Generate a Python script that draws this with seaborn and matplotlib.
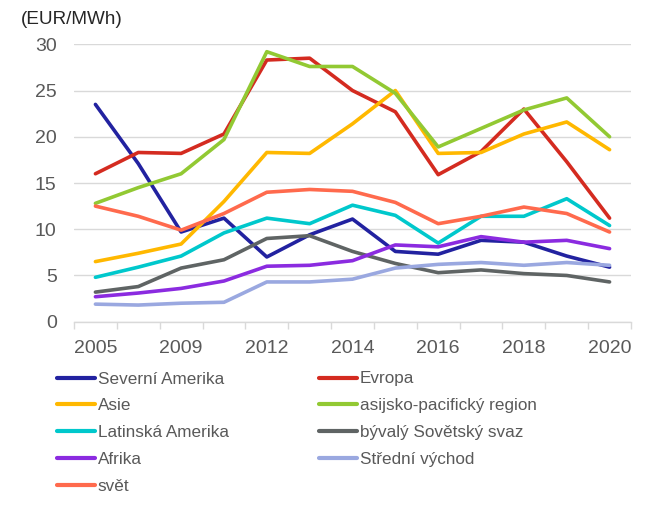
import numpy as np
import pandas as pd
import seaborn as sns
import matplotlib
matplotlib.use("Agg")
import matplotlib.pyplot as plt
from matplotlib.ticker import FixedLocator

# years on the category axis (only every second one is labelled)
years = ["2005", "2007", "2009", "2010", "2012", "2013", "2014",
         "2015", "2016", "2017", "2018", "2019", "2020"]

severni_amerika = [23.5, 17.1, 9.7, 11.2, 7.0, 9.4, 11.1, 7.6, 7.3, 8.8, 8.6, 7.1, 5.9]
evropa = [16.0, 18.3, 18.2, 20.3, 28.3, 28.5, 25.0, 22.7, 15.9, 18.4, 23.0, 17.3, 11.2]
asie = [6.5, 7.4, 8.4, 13.0, 18.3, 18.2, 21.4, 25.0, 18.2, 18.3, 20.3, 21.6, 18.6]
asia_pacific = [12.8, 14.5, 16.0, 19.7, 29.2, 27.6, 27.6, 24.7, 18.9, 20.9, 22.9, 24.2, 20.0]
latinska_amerika = [4.8, 5.9, 7.1, 9.6, 11.2, 10.6, 12.6, 11.5, 8.5, 11.4, 11.4, 13.3, 10.4]
byvaly_sssr = [3.2, 3.8, 5.8, 6.7, 9.0, 9.3, 7.6, 6.3, 5.3, 5.6, 5.2, 5.0, 4.3]
afrika = [2.7, 3.1, 3.6, 4.4, 6.0, 6.1, 6.6, 8.3, 8.1, 9.2, 8.6, 8.8, 7.9]
stredni_vychod = [1.9, 1.8, 2.0, 2.1, 4.3, 4.3, 4.6, 5.8, 6.2, 6.4, 6.1, 6.4, 6.1]
svet = [12.5, 11.4, 9.9, 11.7, 14.0, 14.3, 14.1, 12.9, 10.6, 11.4, 12.4, 11.7, 9.7]

series = {
    "Severní Amerika": severni_amerika,
    "Evropa": evropa,
    "Asie": asie,
    "asijsko-pacifický region": asia_pacific,
    "Latinská Amerika": latinska_amerika,
    "bývalý Sovětský svaz": byvaly_sssr,
    "Afrika": afrika,
    "Střední východ": stredni_vychod,
    "svět": svet,
}
colors = {
    "Severní Amerika": "#2222a0",
    "Evropa": "#d42b20",
    "Asie": "#ffb800",
    "asijsko-pacifický region": "#92c933",
    "Latinská Amerika": "#00c8cc",
    "bývalý Sovětský svaz": "#5f6464",
    "Afrika": "#8b2be0",
    "Střední východ": "#9aa8e0",
    "svět": "#ff6a4d",
}

rows = []
for name, vals in series.items():
    for i, v in enumerate(vals):
        rows.append({"idx": i, "value": v, "region": name})
df = pd.DataFrame(rows)

sns.set_style("white")
plt.rcParams["font.family"] = ["Liberation Sans", "DejaVu Sans"]
text_col = "#595959"

fig = plt.figure(figsize=(6.7, 5.08), dpi=100)
ax = fig.add_axes([74 / 670, 1 - 321.7 / 508, (631 - 74) / 670, (321.7 - 44.3) / 508])

sns.lineplot(data=df, x="idx", y="value", hue="region", palette=colors,
             hue_order=list(series.keys()), linewidth=2.6, ax=ax, legend=False)

ax.set_xlim(-0.5, len(years) - 0.5)
ax.set_ylim(0, 30)
ax.set_yticks(np.arange(0, 31, 5))
ax.yaxis.grid(True, color="#d9d9d9", linewidth=1)
ax.set_axisbelow(True)
ax.set_xticks(range(0, len(years), 2))
ax.set_xticklabels(years[::2])
ax.xaxis.set_minor_locator(FixedLocator(np.arange(-0.5, len(years), 1)))
ax.tick_params(axis="x", which="major", length=0, pad=13, labelsize=14, labelcolor=text_col)
ax.tick_params(axis="x", which="minor", length=5, width=1, color="#d9d9d9", bottom=True)
ax.tick_params(axis="y", length=0, pad=12.5, labelsize=14, labelcolor=text_col)
ax.set_xlabel("")
ax.set_ylabel("")
for s in ["top", "right", "left"]:
    ax.spines[s].set_visible(False)
ax.spines["bottom"].set_color("#d9d9d9")
ax.spines["bottom"].set_linewidth(1)

fig.text(20.5 / 670, 1 - 20 / 508, "(EUR/MWh)", fontsize=13.6, color="#262626", va="center")

# legend: two columns, row-wise order as in the source
names = list(series.keys())
handles = [plt.Line2D([], [], color=colors[n], linewidth=3) for n in names]
leg_kw = dict(loc="upper left", frameon=False, fontsize=12.3, labelcolor=text_col,
              handlelength=2.2, handletextpad=0.18, labelspacing=0.69,
              borderpad=0, borderaxespad=0)
left_ix = [0, 2, 4, 6, 8]
right_ix = [1, 3, 5, 7]
fig.legend([handles[i] for i in left_ix], [names[i] for i in left_ix],
           bbox_to_anchor=(57 / 670, 1 - 371.5 / 508), **leg_kw)
fig.legend([handles[i] for i in right_ix], [names[i] for i in right_ix],
           bbox_to_anchor=(319 / 670, 1 - 371.5 / 508), **leg_kw)

fig.savefig("out.png", dpi=100)
